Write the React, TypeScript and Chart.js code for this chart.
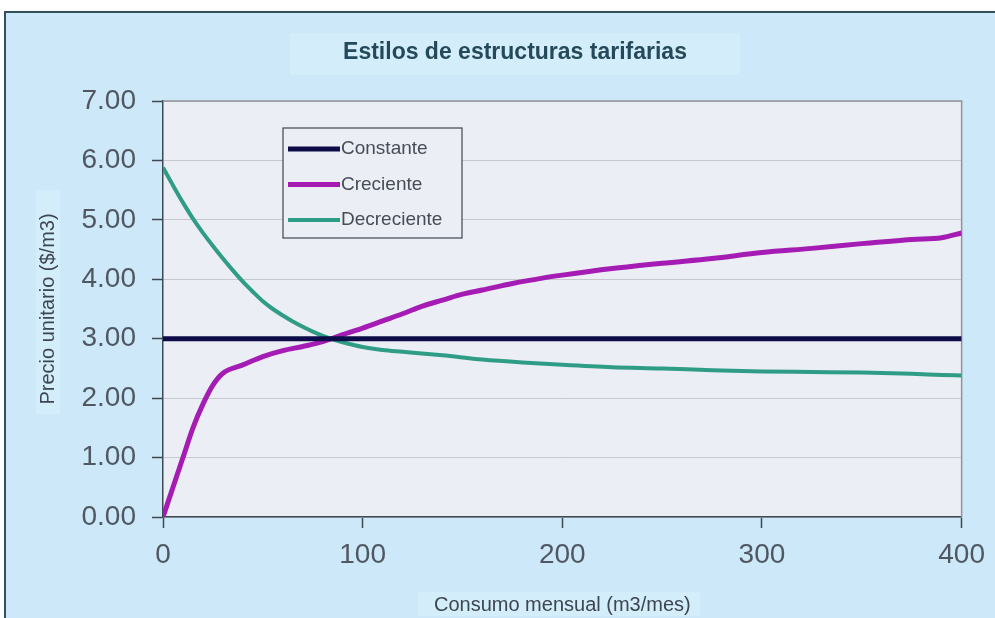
import React, { useEffect, useRef } from "react";
import { Chart, registerables } from "chart.js";

Chart.register(...registerables);

const chartTitle = "Estilos de estructuras tarifarias";
const xAxisTitle = "Consumo mensual (m3/mes)";
const yAxisTitle = "Precio unitario ($/m3)";

const seriesNames = ["Constante", "Creciente", "Decreciente"];

const constX = [0, 400];
const constY = [3, 3];

const crecX = [0, 5, 10, 15, 20, 25, 30, 40, 50, 60, 70, 80, 90, 100, 110, 120, 130, 140, 150, 160, 175, 190, 200, 225, 250, 275, 300, 325, 350, 375, 390, 400];
const crecY = [0, 0.5, 1.0, 1.5, 1.9, 2.22, 2.42, 2.56, 2.7, 2.8, 2.87, 2.95, 3.07, 3.18, 3.3, 3.42, 3.55, 3.65, 3.75, 3.82, 3.93, 4.02, 4.07, 4.18, 4.27, 4.35, 4.45, 4.52, 4.6, 4.67, 4.7, 4.78];

const decX = [0, 5, 10, 15, 20, 25, 30, 35, 40, 45, 50, 55, 60, 65, 70, 75, 80, 85, 90, 100, 110, 120, 140, 160, 180, 200, 225, 250, 275, 300, 325, 350, 375, 390, 400];
const decY = [5.88, 5.58, 5.29, 5.02, 4.78, 4.56, 4.35, 4.15, 3.96, 3.79, 3.63, 3.5, 3.39, 3.29, 3.2, 3.12, 3.05, 2.99, 2.94, 2.86, 2.81, 2.78, 2.72, 2.65, 2.6, 2.56, 2.52, 2.5, 2.47, 2.45, 2.44, 2.43, 2.41, 2.39, 2.38];

const xTicks = [0, 100, 200, 300, 400];
const yTicks = [0, 1, 2, 3, 4, 5, 6, 7];

const seriesColors = ["#0d0c48", "#a41cb3", "#2f9c86"];
const seriesWidths = [5, 5, 4];

const toPoints = (xs: number[], ys: number[]) => xs.map((x, i) => ({ x, y: ys[i] }));

const FONT = "'Liberation Sans', Arial, sans-serif";

const decorPlugin = {
  id: "decor",
  beforeDraw(chart: any) {
    const { ctx, chartArea } = chart;
    ctx.save();
    ctx.fillStyle = "#eceef5";
    ctx.fillRect(chartArea.left, chartArea.top, chartArea.right - chartArea.left, chartArea.bottom - chartArea.top);
    // soft boxes behind titles
    ctx.fillStyle = "rgba(222,245,250,0.45)";
    ctx.fillRect(290, 33, 450, 42);
    ctx.fillRect(36, 190, 24, 224);
    ctx.fillRect(418, 592, 282, 24);
    ctx.restore();
  },
  beforeDatasetsDraw(chart: any) {
    const { ctx, chartArea } = chart;
    ctx.save();
    ctx.strokeStyle = "#8e949a";
    ctx.lineWidth = 1.5;
    ctx.beginPath();
    ctx.moveTo(chartArea.left, chartArea.top);
    ctx.lineTo(chartArea.right, chartArea.top);
    ctx.lineTo(chartArea.right, chartArea.bottom);
    ctx.stroke();
    ctx.restore();
  },
  afterDraw(chart: any) {
    const { ctx } = chart;
    ctx.save();
    // title
    ctx.fillStyle = "#23495a";
    ctx.font = `bold 23px ${FONT}`;
    ctx.textAlign = "center";
    ctx.textBaseline = "middle";
    ctx.fillText(chartTitle, 515, 53);
    // legend
    const lx = 283, ly = 128, lw = 179, lh = 110;
    ctx.fillStyle = "#eceef5";
    ctx.fillRect(lx, ly, lw, lh);
    ctx.strokeStyle = "#3c4650";
    ctx.lineWidth = 1.2;
    ctx.strokeRect(lx, ly, lw, lh);
    ctx.font = `19px ${FONT}`;
    ctx.textAlign = "left";
    chart.data.datasets.forEach((ds: any, i: number) => {
      const y = ly + 21 + i * 35.5;
      ctx.strokeStyle = ds.borderColor;
      ctx.lineWidth = ds.borderWidth;
      ctx.beginPath();
      ctx.moveTo(lx + 5, y);
      ctx.lineTo(lx + 57, y);
      ctx.stroke();
      ctx.fillStyle = "#464d56";
      ctx.fillText(ds.label, lx + 58, y);
    });
    ctx.restore();
  },
};

export default function App() {
  const ref = useRef<HTMLCanvasElement | null>(null);
  useEffect(() => {
    if (!ref.current) return;
    const datasets = [toPoints(constX, constY), toPoints(crecX, crecY), toPoints(decX, decY)].map((data, i) => ({
      label: seriesNames[i],
      data,
      borderColor: seriesColors[i],
      backgroundColor: seriesColors[i],
      borderWidth: seriesWidths[i],
      pointRadius: 0,
      cubicInterpolationMode: "monotone",
      fill: false,
    }));
    const tickFont = { family: FONT, size: 28 };
    const chart = new Chart(ref.current, {
      type: "line",
      data: { datasets },
      plugins: [decorPlugin],
      options: {
        responsive: false,
        animation: false,
        layout: { padding: { left: 0, right: 33, top: 101, bottom: 0 } },
        plugins: {
          legend: { display: false },
          title: { display: false },
          tooltip: { enabled: false },
        },
        scales: {
          x: {
            type: "linear",
            min: 0,
            max: 400,
            afterFit: (s: any) => { s.height = 101; },
            afterBuildTicks: (s: any) => { s.ticks = xTicks.map((v) => ({ value: v })); },
            ticks: { font: tickFont, color: "#4f5862", padding: 10, maxRotation: 0 },
            grid: { drawOnChartArea: false, drawTicks: true, tickLength: 11, tickColor: "#3c4852", tickWidth: 1.5 },
            border: { color: "#3c4852", width: 1.5 },
            title: {
              display: true,
              text: xAxisTitle,
              font: { family: FONT, size: 20 },
              color: "#3c4650",
              padding: { top: 0, bottom: 1 },
            },
          },
          y: {
            type: "linear",
            min: 0,
            max: 7,
            afterFit: (s: any) => { s.width = 163; },
            afterBuildTicks: (s: any) => { s.ticks = yTicks.map((v) => ({ value: v })); },
            ticks: {
              font: tickFont,
              color: "#4f5862",
              padding: 16,
              callback: (v: any) => Number(v).toFixed(2),
            },
            grid: { color: "#c6c8ce", lineWidth: 1, drawTicks: true, tickLength: 11, tickColor: "#3c4852", tickWidth: 1.5 },
            border: { color: "#3c4852", width: 1.5 },
            title: {
              display: true,
              text: yAxisTitle,
              font: { family: FONT, size: 20 },
              color: "#3c4650",
              padding: { top: 36, bottom: 0 },
            },
          },
        },
      },
    } as any);
    return () => chart.destroy();
  }, []);
  return (
    <div style={{ position: "fixed", left: 0, top: 0, width: 995, height: 618, background: "#ffffff", overflow: "hidden" }}>
      <div style={{ position: "absolute", left: 4, top: 11, width: 1000, height: 620, background: "#cde8f9", border: "2px solid #34505c", boxSizing: "border-box" }} />
      <canvas ref={ref} width={995} height={618} style={{ position: "absolute", left: 0, top: 0 }} />
    </div>
  );
}
